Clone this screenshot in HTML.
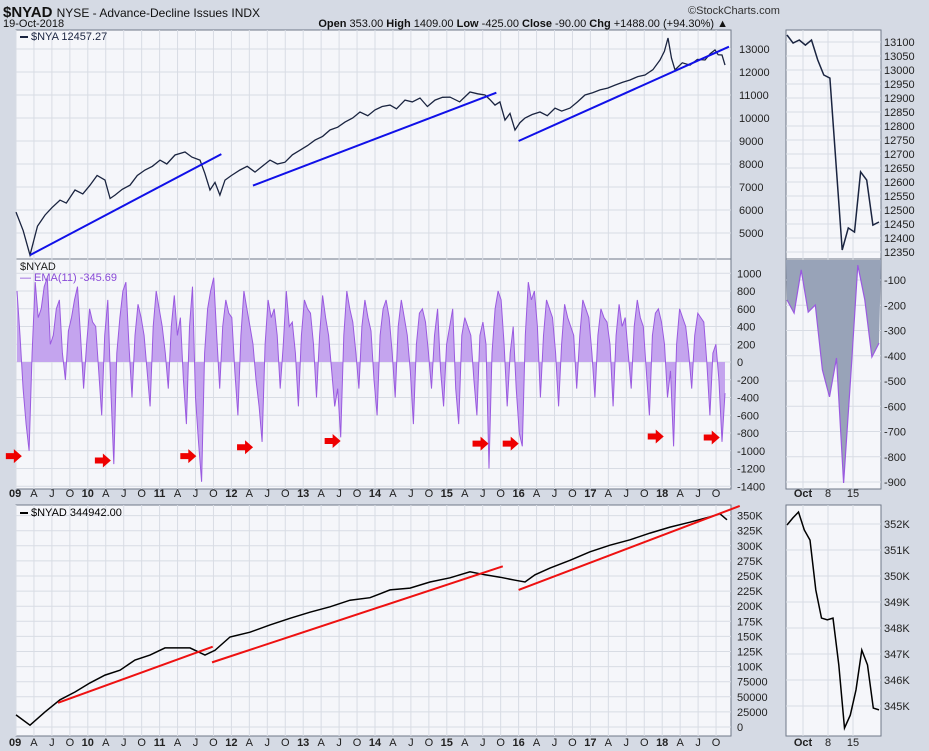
<!DOCTYPE html>
<html><head><meta charset="utf-8"><style>
body{margin:0;background:#d5dae4;}
svg{display:block;font-family:"Liberation Sans",sans-serif;}
</style></head><body>
<svg id="c" width="929" height="751" xmlns="http://www.w3.org/2000/svg">
<rect width="929" height="751" fill="#d5dae4"/>
<text x="3" y="17" font-size="15" font-weight="bold" fill="#111">$NYAD <tspan font-size="12" font-weight="normal">NYSE - Advance-Decline Issues INDX</tspan></text>
<text x="688" y="14" font-size="11" fill="#333">©StockCharts.com</text>
<text x="3" y="27" font-size="11" fill="#111">19-Oct-2018</text>
<text x="728" y="27" font-size="11" text-anchor="end" fill="#111"><tspan font-weight="bold">Open</tspan> 353.00 <tspan font-weight="bold">High</tspan> 1409.00 <tspan font-weight="bold">Low</tspan> -425.00 <tspan font-weight="bold">Close</tspan> -90.00 <tspan font-weight="bold">Chg</tspan> +1488.00 (+94.30%) ▲</text>
<g id="g"></g>
</svg>
<script>
// ---- data ----
const nyaDates=[0,.1,.195,.3,.404,.5,.613,.7,.822,.93,1.031,1.13,1.24,1.31,1.379,1.48,1.588,1.69,1.797,1.9,2.006,2.1,2.214,2.354,2.45,2.563,2.63,2.702,2.772,2.84,2.911,3.0,3.12,3.22,3.329,3.43,3.538,3.64,3.747,3.85,3.955,4.06,4.164,4.27,4.373,4.48,4.582,4.69,4.791,4.9,5.0,5.1,5.209,5.3,5.418,5.52,5.627,5.73,5.836,5.94,6.045,6.18,6.323,6.43,6.532,6.6,6.671,6.74,6.811,6.88,6.95,7.02,7.089,7.19,7.298,7.4,7.507,7.6,7.716,7.82,7.925,8.03,8.134,8.24,8.343,8.45,8.552,8.66,8.76,8.87,8.969,9.03,9.081,9.13,9.178,9.28,9.387,9.49,9.596,9.67,9.735,9.78,9.833,9.875];
const nyaValues=[5910,5100,4040,5300,5780,6100,6430,6300,6870,6700,7080,7500,7300,6500,6650,6900,7080,7500,7740,7900,8170,8000,8390,8520,8300,8170,7600,6870,7200,6650,7300,7500,7740,7900,7650,7900,8170,8000,8080,8400,8600,8800,9040,9200,9480,9600,9820,10000,10260,10100,10350,10500,10560,10400,10780,10700,10870,10500,10780,10900,10910,10700,11130,11050,11000,10800,10560,10700,9910,10200,9480,9800,10000,10150,10260,10100,10430,10300,10430,10700,11000,11100,11220,11300,11430,11550,11650,11800,11870,12100,12520,12900,13480,12600,12090,12400,12300,12550,12520,12800,12960,12750,12740,12300];
const nyaTicks=[13000,12000,11000,10000,9000,8000,7000,6000,5000];
const blueTrend=[[0.195,4040,2.86,8430],[3.3,7060,6.69,11100],[7.0,9000,9.93,13100]];
const oscValues=[800,300,-300,-700,-1000,100,900,500,600,850,950,200,300,600,700,100,-200,350,500,700,850,300,-300,200,600,450,400,-100,-600,300,700,-300,-1150,100,500,800,900,200,-400,300,650,500,300,-100,-500,400,800,600,400,100,-300,400,750,300,500,-200,-700,400,850,-400,-900,-1350,100,600,800,950,300,-300,400,700,550,500,-100,-600,300,800,600,400,200,-200,-500,-900,200,700,500,600,300,-300,200,800,400,450,100,-500,300,700,600,550,200,-400,300,750,500,300,-100,-500,-300,-850,300,800,600,450,100,-300,400,700,500,350,-200,-600,300,600,700,500,100,-400,400,700,500,300,-100,-700,200,550,600,450,100,-300,300,600,-100,-500,200,400,600,-300,-700,300,500,400,300,-200,-600,300,450,200,-1200,100,600,800,700,200,-500,100,400,-300,-800,-950,300,900,700,800,400,-400,300,700,600,500,100,-500,200,650,500,400,300,-300,300,700,600,500,100,-400,300,600,500,450,200,-500,300,650,400,500,100,-300,400,700,500,400,-100,-600,300,550,600,450,200,-400,-100,-950,200,600,500,400,100,-300,300,550,500,450,0,-600,100,200,-200,-900,-350];
const oscTicks=[1000,800,600,400,200,0,-200,-400,-600,-800,-1000,-1200,-1400];
const arrowDates=[-.03,1.21,2.4,3.19,4.41,6.47,6.89,8.91,9.69];
const arrowVals=[-1060,-1110,-1060,-960,-890,-920,-920,-840,-850];
const adDates=[0,.195,.404,.613,.822,1.031,1.24,1.448,1.657,1.866,2.075,2.423,2.632,2.772,2.981,3.259,3.538,3.816,4.095,4.373,4.652,4.930,5.209,5.487,5.766,6.045,6.323,6.532,6.741,6.95,7.089,7.228,7.437,7.716,7.994,8.273,8.552,8.830,9.109,9.387,9.666,9.805,9.903];
const adValues=[20,3,25,45,58,73,86,94,111,119,131,131,119,127,149,157,169,180,190,199,210,214,227,230,240,247,257,252,248,243,240,252,263,276,290,301,310,321,331,339,348,353,343];
const adTicks=[350,325,300,275,250,225,200,175,150,125,100,75,50,25,0];
const redTrend=[[.585,40,2.74,133],[2.73,107,6.78,266],[7.0,227,10.08,366]];
const yearLabels=["09","10","11","12","13","14","15","16","17","18"];
const smNya=[13125,13096,13107,13089,13107,13036,12982,12971,12661,12357,12436,12421,12636,12607,12446,12457];
const smNyaTicks=[13100,13050,13000,12950,12900,12850,12800,12750,12700,12650,12600,12550,12500,12450,12400,12350];
const smOsc=[-179,-231,-60,-227,-199,-456,-563,-409,-904,-484,-41,-179,-405,-350];
const smOscTicks=[-100,-200,-300,-400,-500,-600,-700,-800,-900];
const smAd=[351.96,352.23,352.46,351.77,351.38,349.46,348.38,348.31,348.38,346.58,344.15,344.65,345.62,347.15,346.58,344.92,344.85];
const smAdTicks=[352,351,350,349,348,347,346,345];
// ---- drawing ----
const NS="http://www.w3.org/2000/svg",G=document.getElementById('g');
function mk(t,a,p){const e=document.createElementNS(NS,t);for(const k in a)e.setAttribute(k,a[k]);(p||G).appendChild(e);return e;}
const X=d=>16+71.8*d;
const yNya=v=>49+(13000-v)*0.023;
const yOsc=v=>362-v*0.08875;
const yAd=v=>727-v*0.604;
const L=16,R=731;
function panel(x1,y1,x2,y2,name){const r=mk('rect',{x:x1,y:y1,width:x2-x1,height:y2-y1,fill:'#f5f6fa',stroke:'#707888','stroke-width':1});}
panel(L,30,R,259,'price-panel');panel(L,259,R,489,'oscillator-panel');panel(L,505,R,736,'ad-line-panel');
panel(786,30,881,259,'zoom-price-panel');panel(786,259,881,489,'zoom-oscillator-panel');panel(786,505,881,736,'zoom-ad-panel');
for(let q=0;q<40;q++){const x=X(q/4);
 [[30,259],[259,489],[505,736]].forEach(([a,b])=>mk('line',{x1:x,y1:a,x2:x,y2:b,stroke:'#d8dce4'}));
 const lab=q%4==0?yearLabels[q/4]:["","A","J","O"][q%4];
 [497,746].forEach(yy=>{const t=mk('text',{x:q==0?9:x,y:yy,'font-size':11,'text-anchor':q==0?'start':'middle','font-weight':q%4==0?'bold':'normal',fill:'#222'});t.textContent=lab;
 });}
function hticks(ticks,fy,x1,x2,lx,fmt){ticks.forEach(v=>{const y=fy(v);mk('line',{x1:x1,y1:y,x2:x2,y2:y,stroke:'#d8dce4'});
 const t=mk('text',{x:lx,y:y+4,'font-size':11,fill:'#222'});t.textContent=fmt?fmt(v):v;});}
hticks(nyaTicks,yNya,L,R,739);hticks(oscTicks,yOsc,L,R,737);hticks(adTicks,yAd,L,R,737,v=>v==0?'0':v>=100?v+'K':v*1000);
const pts=(ds,vs,fx,fy)=>ds.map((d,i)=>fx(d).toFixed(1)+','+fy(vs[i]).toFixed(1)).join(' ');
let e=mk('polyline',{points:pts(nyaDates,nyaValues,X,yNya),fill:'none',stroke:'#1a2440','stroke-width':1.3});

blueTrend.forEach(t=>{const l=mk('line',{x1:X(t[0]),y1:yNya(t[1]),x2:X(t[2]),y2:yNya(t[3]),stroke:'#1010e8','stroke-width':2});});
// oscillator
const oStep=708/(oscValues.length-1);
const ox=i=>17+i*oStep;
let op=oscValues.map((v,i)=>ox(i).toFixed(1)+','+yOsc(v).toFixed(1)).join(' ');
e=mk('polygon',{points:ox(0)+','+yOsc(0)+' '+op+' '+ox(oscValues.length-1)+','+yOsc(0),fill:'#c4a4ee',stroke:'none'});

e=mk('polyline',{points:op,fill:'none',stroke:'#9a5ae0','stroke-width':1});

arrowDates.forEach((d,i)=>{const x=X(d),y=yOsc(arrowVals[i]);const a=mk('polygon',{points:`${x-8},${y-3} ${x},${y-3} ${x},${y-7} ${x+8},${y} ${x},${y+7} ${x},${y+3} ${x-8},${y+3}`,fill:'#ee0000'});
});
e=mk('polyline',{points:pts(adDates,adValues,X,yAd),fill:'none',stroke:'#000','stroke-width':1.5});

redTrend.forEach(t=>{const l=mk('line',{x1:X(t[0]),y1:yAd(t[1]),x2:Math.min(X(t[2]),742),y2:yAd(t[3]),stroke:'#ee1111','stroke-width':2});});
[['$NYA 12457.27',40,'#1a2440'],['$NYAD',270,'#222'],['$NYAD 344942.00',516,'#000']].forEach(([s,y,c],i)=>{if(i!=1)mk('rect',{x:20,y:y-4,width:8,height:2,fill:c});
 const t=mk('text',{x:i==1?20:31,y:y,'font-size':11,fill:c});t.textContent=s;});
e=mk('text',{x:20,y:281,'font-size':11,fill:'#8a4ad8'});e.textContent='— EMA(11) -345.69';
const sx=(i,n)=>787+i*(92/(n-1));
[[30,259],[259,489],[505,736]].forEach(([a,b])=>{[803,828,853].forEach(x=>mk('line',{x1:x,y1:a,x2:x,y2:b,stroke:'#d8dce4'}));});
const yS1=v=>42+(13100-v)*0.28, yS2=v=>280+(-100-v)*0.2525, yS3=v=>524+(352-v)*26;
function sticks(ticks,fy,fmt){ticks.forEach(v=>{const y=fy(v);mk('line',{x1:786,y1:y,x2:881,y2:y,stroke:'#d8dce4'});const t=mk('text',{x:884,y:y+4,'font-size':11,fill:'#222'});t.textContent=fmt?fmt(v):v;});}
sticks(smNyaTicks,yS1);sticks(smOscTicks,yS2);sticks(smAdTicks,yS3,v=>v+'K');
e=mk('polyline',{points:smNya.map((v,i)=>sx(i,smNya.length).toFixed(1)+','+yS1(v).toFixed(1)).join(' '),fill:'none',stroke:'#1a2440','stroke-width':1.5});

const so=smOsc.map((v,i)=>sx(i,smOsc.length).toFixed(1)+','+yS2(v).toFixed(1)).join(' ');
e=mk('polygon',{points:'786,260 '+so+' 881,260',fill:'#98a3b8',stroke:'none'});
e=mk('polyline',{points:so,fill:'none',stroke:'#9a5ae0','stroke-width':1.2});
e=mk('polyline',{points:smAd.map((v,i)=>sx(i,smAd.length).toFixed(1)+','+yS3(v).toFixed(1)).join(' '),fill:'none',stroke:'#000','stroke-width':1.5});

[['Oct',803,true],['8',828,false],['15',853,false]].forEach(([s,x,b])=>[497,746].forEach(y=>{const t=mk('text',{x:x,y:y,'font-size':11,'text-anchor':'middle','font-weight':b?'bold':'normal',fill:'#222'});t.textContent=s;}));
</script>
</body></html>
